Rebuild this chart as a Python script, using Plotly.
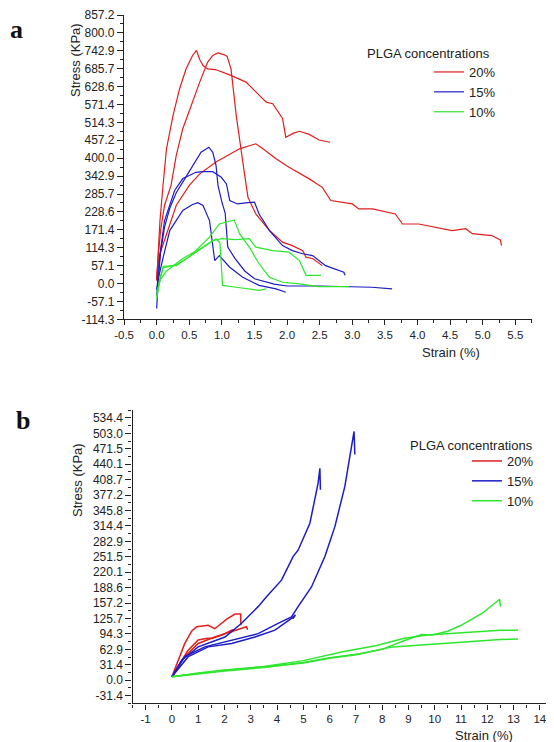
import plotly.graph_objects as go

# ---------------- Panel a data (Strain %, Stress KPa) ----------------
A_R1_X = [0, 0.02, 0.05, 0.097, 0.15, 0.25, 0.35, 0.45, 0.55, 0.61, 0.66, 0.71, 0.78, 0.9, 1.12, 1.37, 1.57, 1.68, 1.78, 1.87, 1.93, 1.98, 2.1, 2.19, 2.34, 2.49, 2.66]
A_R1_Y = [10, 100, 200, 313, 430, 536, 621, 685, 728, 744, 715, 696, 685, 683, 666, 643, 600, 579, 574, 545, 527, 467, 480, 486, 476, 458, 451]
A_R2_X = [0, 0.02, 0.06, 0.12, 0.22, 0.30, 0.40, 0.56, 0.66, 0.78, 0.86, 0.94, 1.04, 1.08, 1.14, 1.22, 1.30, 1.35, 1.40, 1.52, 1.73, 1.93, 2.08, 2.24, 2.29, 2.39, 2.54]
A_R2_Y = [10, 80, 170, 250, 313, 409, 494, 590, 643, 706, 728, 736, 730, 725, 685, 536, 410, 345, 275, 222, 169, 132, 121, 105, 84, 80, 57]
A_R3_X = [0, 0.02, 0.05, 0.15, 0.3, 0.5, 0.66, 0.91, 1.1, 1.27, 1.52, 1.63, 1.83, 2.03, 2.34, 2.54, 2.67, 3.0, 3.1, 3.31, 3.66, 3.77, 4.02, 4.53, 4.74, 4.84, 5.14, 5.27, 5.29]
A_R3_Y = [10, 60, 95, 160, 250, 313, 350, 388, 410, 430, 446, 430, 398, 371, 334, 307, 265, 254, 238, 238, 222, 190, 190, 169, 175, 159, 153, 139, 121]

A_B1_X = [0, 0.02, 0.06, 0.12, 0.2, 0.3, 0.43, 0.56, 0.68, 0.8, 0.86, 0.91, 0.94, 1.0, 1.05, 1.09, 1.2, 1.35, 1.5, 1.8, 2.0, 2.5, 3.0, 3.3, 3.61]
A_B1_Y = [-80, 0, 100, 180, 240, 290, 334, 377, 419, 435, 419, 377, 313, 260, 225, 116, 80, 40, 15, -2, -8, -8, -10, -12, -17]
A_B2_X = [0, 0.02, 0.06, 0.12, 0.275, 0.4, 0.5, 0.6, 0.71, 0.86, 0.99, 1.07, 1.12, 1.24, 1.4, 1.5, 1.57, 1.73, 1.93, 2.08, 2.24, 2.39, 2.59, 2.75, 2.87, 2.89]
A_B2_Y = [-40, 30, 110, 200, 297, 335, 345, 355, 357, 357, 339, 318, 265, 254, 258, 260, 222, 169, 121, 105, 95, 89, 57, 45, 36, 26]
A_B3_X = [0, 0.03, 0.1, 0.2, 0.4, 0.55, 0.63, 0.71, 0.81, 0.89, 0.96, 1.12, 1.32, 1.57, 1.83, 1.98]
A_B3_Y = [-20, 20, 84, 169, 233, 252, 258, 249, 201, 73, 89, 52, 20, -6, -17, -28]

A_G1_X = [0, 0.05, 0.1, 0.3, 0.5, 0.81, 0.96, 1.14, 1.19, 1.27, 1.42, 1.57, 1.73, 1.93, 2.19, 2.49, 2.95]
A_G1_Y = [-50, 20, 50, 60, 85, 148, 190, 201, 203, 159, 116, 63, 20, 4, -1, -10, -10]
A_G2_X = [0, 0.05, 0.15, 0.4, 0.7, 0.86, 1.0, 1.2, 1.42, 1.52, 1.78, 2.03, 2.19, 2.29, 2.52]
A_G2_Y = [-30, 10, 40, 80, 115, 137, 143, 140, 143, 116, 105, 100, 73, 26, 26]
A_G3_X = [0, 0.1, 0.3, 0.5, 0.76, 0.91, 0.97, 0.99, 1.01, 1.22, 1.57, 1.68]
A_G3_Y = [-40, 55, 57, 85, 121, 143, 130, 63, -6, -12, -22, -17]

# ---------------- Panel b data ----------------
B_R1_X = [0, 0.24, 0.49, 0.75, 0.94, 1.1, 1.38, 1.63, 1.89, 2.1, 2.4, 2.62, 2.62]
B_R1_Y = [7, 41, 75, 100, 109, 110, 112, 105, 116, 125, 135, 135, 112]
B_R2_X = [0, 0.3, 0.6, 1.0, 1.3, 1.57, 1.9, 2.27, 2.33, 2.28]
B_R2_Y = [7, 35, 60, 82, 85, 86, 92, 102, 103, 98]
B_R3_X = [0, 0.2, 0.49, 1.0, 1.63, 2.27, 2.6, 2.84, 2.88]
B_R3_Y = [7, 25, 48, 75, 88, 99, 104, 109, 103]

B_B1_X = [0, 0.37, 1.0, 1.5, 2.02, 2.65, 3.28, 3.6, 4.17, 4.61, 4.8, 5.25, 5.56, 5.63, 5.65]
B_B1_Y = [7, 41, 68, 78, 88, 116, 150, 170, 204, 252, 265, 320, 401, 432, 388]
B_B2_X = [0, 0.49, 1.25, 2.27, 3.28, 4.04, 4.55, 4.8, 5.31, 5.82, 6.2, 6.58, 6.83, 6.93, 6.96]
B_B2_Y = [7, 48, 68, 82, 95, 116, 129, 150, 190, 252, 313, 395, 469, 507, 460]
B_B3_X = [0, 0.62, 1.38, 2.27, 3.16, 3.92, 4.55, 4.70, 4.6]
B_B3_Y = [7, 48, 68, 75, 88, 102, 126, 133, 125]

B_G1_X = [0, 1, 2, 3.5, 5, 6, 7, 8, 8.8, 9.5, 9.9, 10.5, 11, 11.8, 12.47, 12.5]
B_G1_Y = [7, 14, 20, 27, 35, 45, 52, 63, 80, 93, 92, 100, 112, 136, 165, 150]
B_G2_X = [0, 1, 2, 3.5, 5, 6.5, 7.8, 8.8, 9.7, 11, 12.5, 13.17]
B_G2_Y = [7, 15, 21, 28, 40, 58, 71, 85, 92, 97, 102, 102]
B_G3_X = [0, 1, 2, 3.5, 5, 6, 7.15, 8.4, 9.7, 11, 12.5, 13.17]
B_G3_Y = [7, 13, 19, 26, 36, 46, 54, 68, 73, 78, 83, 84]

# ---------------- Tick labels ----------------
A_Y_TICKS = ["-114.3", "-57.1", "0.0", "57.1", "114.3", "171.4", "228.6", "285.7", "342.9",
             "400.0", "457.2", "514.3", "571.4", "628.6", "685.7", "742.9", "800.0", "857.2"]
A_X_TICKS = ["-0.5", "0.0", "0.5", "1.0", "1.5", "2.0", "2.5", "3.0", "3.5", "4.0", "4.5", "5.0", "5.5"]
B_Y_TICKS = ["-31.4", "0.0", "31.4", "62.9", "94.3", "125.7", "157.2", "188.6", "220.1", "251.5",
             "282.9", "314.4", "345.8", "377.2", "408.7", "440.1", "471.5", "503.0", "534.4"]
B_X_TICKS = ["-1", "0", "1", "2", "3", "4", "5", "6", "7", "8", "9", "10", "11", "12", "13", "14"]

SERIES_NAMES = ["20%", "15%", "10%"]
COLORS = ["#e01e1e", "#1c1cc8", "#2ee62e"]

W, H = 554, 742
OFF = 8  # page body margin in the browser
FONT = "Liberation Sans, Arial, sans-serif"


def px_x(p):
    return (p - OFF) / W


def px_y(p):
    return 1 - (p - OFF) / H


fig = go.Figure()

panel_a = [
    [(A_R1_X, A_R1_Y), (A_R2_X, A_R2_Y), (A_R3_X, A_R3_Y)],
    [(A_B1_X, A_B1_Y), (A_B2_X, A_B2_Y), (A_B3_X, A_B3_Y)],
    [(A_G1_X, A_G1_Y), (A_G2_X, A_G2_Y), (A_G3_X, A_G3_Y)],
]
panel_b = [
    [(B_R1_X, B_R1_Y), (B_R2_X, B_R2_Y), (B_R3_X, B_R3_Y)],
    [(B_B1_X, B_B1_Y), (B_B2_X, B_B2_Y), (B_B3_X, B_B3_Y)],
    [(B_G1_X, B_G1_Y), (B_G2_X, B_G2_Y), (B_G3_X, B_G3_Y)],
]

for panel, xa, ya, leg, lw in [(panel_a, "x", "y", "legend", 1.2), (panel_b, "x2", "y2", "legend2", 1.5)]:
    for i, group in enumerate(panel):
        for j, (xs, ys) in enumerate(group):
            fig.add_trace(go.Scatter(
                x=xs, y=ys, mode="lines", xaxis=xa, yaxis=ya,
                line=dict(color=COLORS[i], width=lw),
                name=SERIES_NAMES[i], legendgroup=leg + SERIES_NAMES[i],
                showlegend=(j == 0), legend=leg,
            ))


def mids(vals):
    return [(a + b) / 2 for a, b in zip(vals[:-1], vals[1:])]


a_yv = [float(t) for t in A_Y_TICKS]
a_xv = [float(t) for t in A_X_TICKS]
b_yv = [float(t) for t in B_Y_TICKS]
b_xv = [float(t) for t in B_X_TICKS]

axis_common = dict(showline=True, linecolor="#222", linewidth=1.3, showgrid=False, zeroline=False,
                   ticks="outside", tickwidth=1.2, tickcolor="#222", automargin=False)
y_common = dict(ticklen=6, tickfont=dict(family=FONT, size=12, color="#222"), **axis_common)
x_common = dict(ticklen=5, tickfont=dict(family=FONT, size=11.5, color="#222"), **axis_common)

fig.update_layout(
    width=W, height=H, margin=dict(l=0, r=0, t=0, b=0),
    paper_bgcolor="white", plot_bgcolor="white",
    xaxis=dict(domain=[px_x(124.1), px_x(531.6)], range=[-0.5, 5.75], anchor="y",
               tickmode="array", tickvals=a_xv, ticktext=A_X_TICKS,
               minor=dict(tickvals=mids(a_xv) + [5.75], ticks="outside", ticklen=3, tickcolor="#222"),
               **x_common),
    yaxis=dict(domain=[px_y(319.3), px_y(15)], range=[-114.3, 857.2], anchor="x",
               tickmode="array", tickvals=a_yv, ticktext=A_Y_TICKS,
               minor=dict(tickvals=mids(a_yv), ticks="outside", ticklen=3, tickcolor="#222"),
               **y_common),
    xaxis2=dict(domain=[px_x(132.5), px_x(553)], range=[-1.5, 14.5], anchor="y2",
                tickmode="array", tickvals=b_xv, ticktext=B_X_TICKS,
                minor=dict(tickvals=[-1.5] + mids(b_xv) + [14.5], ticks="outside", ticklen=3, tickcolor="#222"),
                **x_common),
    yaxis2=dict(domain=[px_y(703.4), px_y(410.3)], range=[-47.15, 550.0], anchor="x2",
                tickmode="array", tickvals=b_yv, ticktext=B_Y_TICKS,
                minor=dict(tickvals=[-47.15] + mids(b_yv) + [550.0], ticks="outside", ticklen=3, tickcolor="#222"),
                **y_common),
    legend=dict(x=px_x(429), y=px_y(57), xanchor="left", yanchor="top",
                bgcolor="rgba(0,0,0,0)", borderwidth=0, tracegroupgap=0,
                font=dict(family=FONT, size=13, color="#222")),
    legend2=dict(x=px_x(467), y=px_y(446), xanchor="left", yanchor="top",
                 bgcolor="rgba(0,0,0,0)", borderwidth=0, tracegroupgap=0,
                 font=dict(family=FONT, size=13, color="#222")),
    showlegend=True,
)

SERIF = "Liberation Serif, Times New Roman, serif"
ann = [
    dict(text="<b>a</b>", x=px_x(16), y=px_y(30), font=dict(family=SERIF, size=26, color="#111")),
    dict(text="<b>b</b>", x=px_x(23), y=px_y(420), font=dict(family=SERIF, size=26, color="#111")),
    dict(text="Stress (KPa)", x=px_x(75), y=px_y(60), font=dict(family=FONT, size=13, color="#222"), textangle=-90),
    dict(text="Stress (KPa)", x=px_x(77), y=px_y(480), font=dict(family=FONT, size=13, color="#222"), textangle=-90),
    dict(text="Strain (%)", x=px_x(451), y=px_y(352), font=dict(family=FONT, size=13, color="#222")),
    dict(text="Strain (%)", x=px_x(484), y=px_y(735), font=dict(family=FONT, size=13, color="#222")),
    dict(text="PLGA concentrations", x=px_x(492), y=px_y(53), xanchor="right", font=dict(family=FONT, size=13, color="#222")),
    dict(text="PLGA concentrations", x=px_x(535), y=px_y(445), xanchor="right", font=dict(family=FONT, size=13, color="#222")),
]
for a in ann:
    a.setdefault("xanchor", "center")
    a.setdefault("textangle", 0)
    fig.add_annotation(xref="paper", yref="paper", yanchor="middle", showarrow=False, **a)

fig.write_html("out.html")
